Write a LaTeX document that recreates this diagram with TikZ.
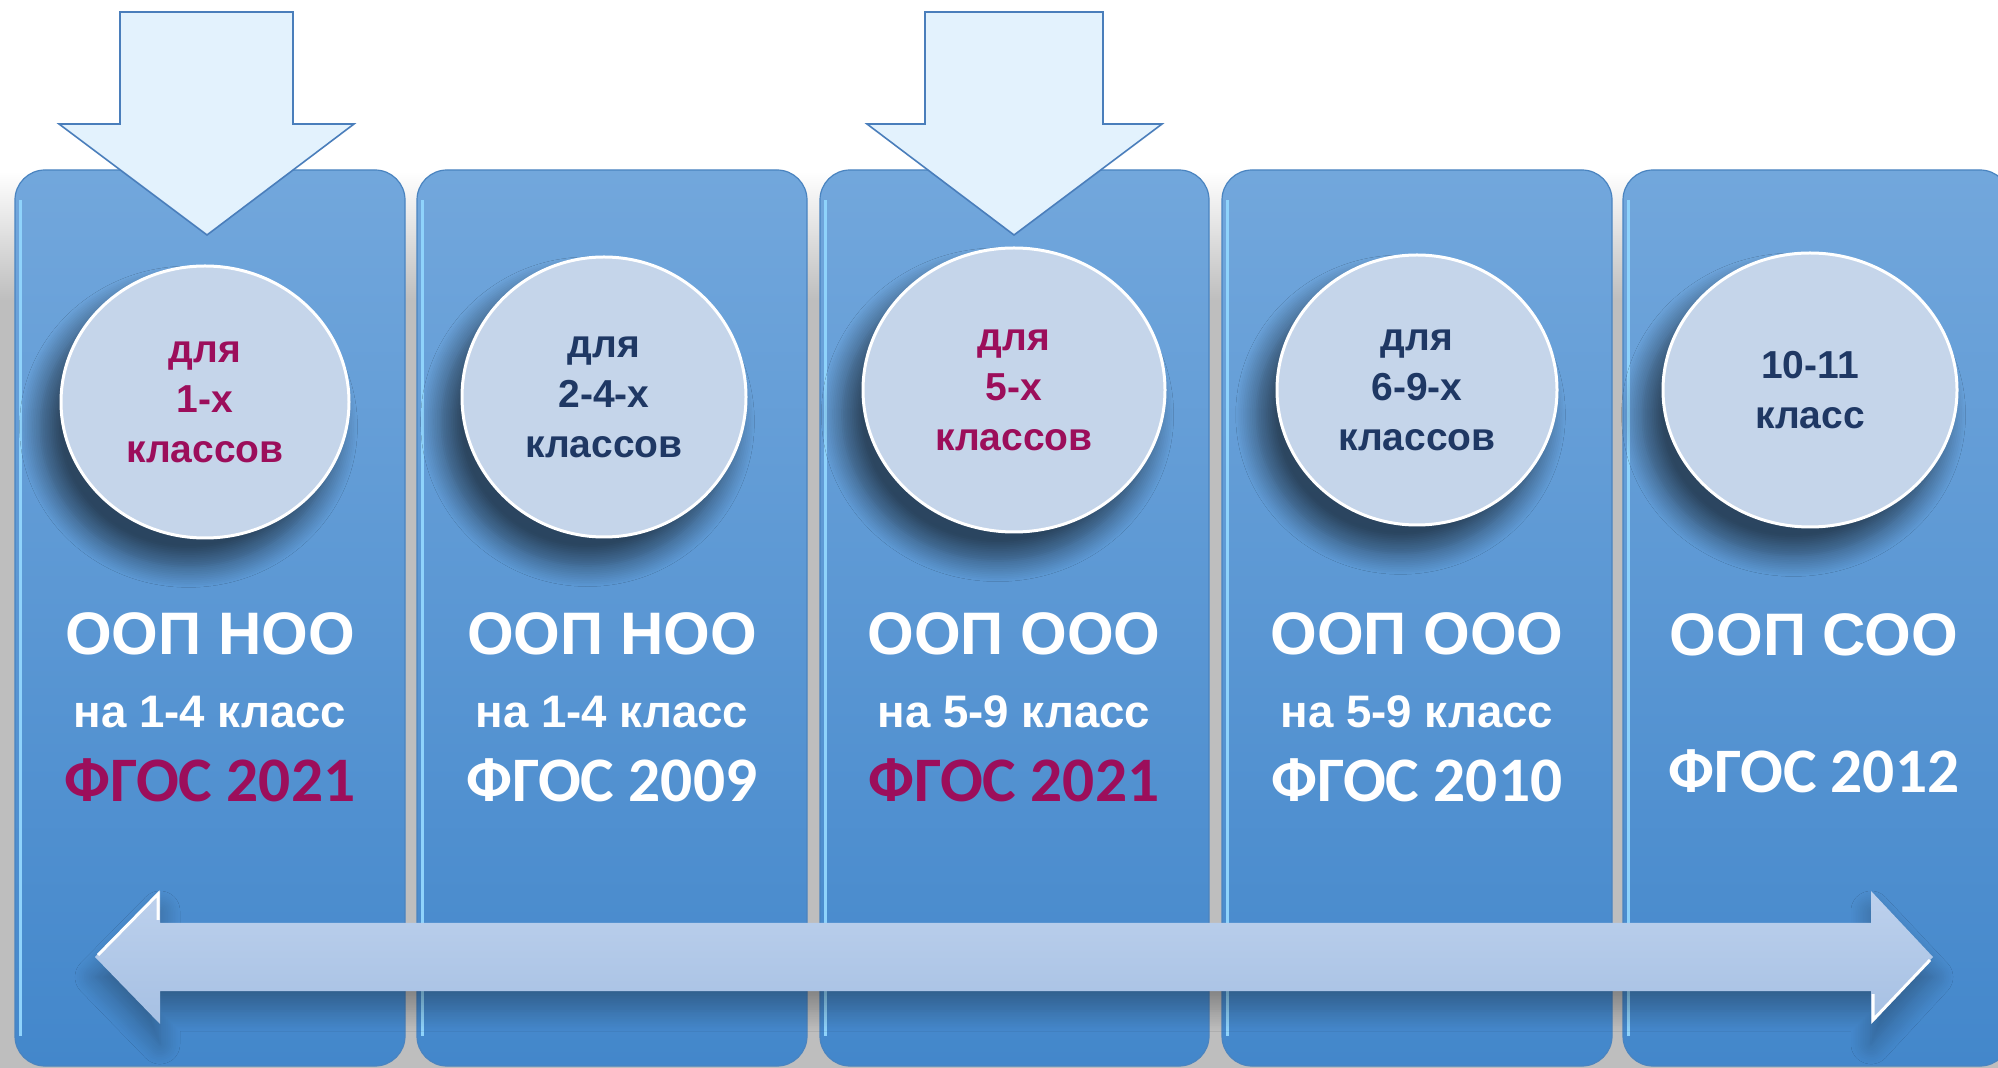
\documentclass[tikz,border=0pt]{standalone}
\usepackage{fontspec}
\setmainfont{Liberation Sans}
\newfontfamily\calfont{Carlito}
\usetikzlibrary{shapes.geometric,shadows.blur}

\definecolor{colTop}{HTML}{72A7DC}
\definecolor{colBot}{HTML}{4387CB}
\definecolor{colEdge}{HTML}{4A84C0}
\definecolor{bubFill}{HTML}{C5D5EA}
\definecolor{arrFill}{HTML}{E3F2FD}
\definecolor{arrEdge}{HTML}{4A7EBB}
\definecolor{barTop}{HTML}{BDD1ED}
\definecolor{barBot}{HTML}{A6C0E3}
\definecolor{plum}{HTML}{9C0E5B}
\definecolor{navy}{HTML}{1F3864}
\definecolor{gapGray}{HTML}{BEBEBE}
\definecolor{hiCyan}{HTML}{8FD3FB}

\begin{document}
\begin{tikzpicture}[x=0.5pt, y=-0.5pt,
  column/.style={rounded corners=15pt, top color=colTop, bottom color=colBot, draw=colEdge, line width=0.6pt},
  bubble/.style={ellipse, fill=bubFill, draw=white, line width=1.5pt, inner sep=0pt, align=center,
    text=navy, font=\bfseries\fontsize{19.5}{25}\selectfont,
    blur shadow={shadow xshift=-8pt, shadow yshift=-12pt, shadow blur radius=10pt, shadow blur steps=12,
      shadow opacity=55, shadow scale=1.03}},
  downarrow/.style={fill=arrFill, draw=arrEdge, line width=0.8pt, line join=miter},
  bigtext/.style={anchor=base, text=white, font=\bfseries\fontsize{30}{32}\selectfont},
  midtext/.style={anchor=base, text=white, font=\bfseries\fontsize{22.8}{24}\selectfont},
  fgostext/.style={anchor=base, text=white, font=\calfont\bfseries\fontsize{31.7}{33}\selectfont}]

\useasboundingbox (0,0) rectangle (1998,1068);
\fill[white] (0,0) rectangle (1998,1068);

% Grey backdrop behind the columns
\shade[top color=white, bottom color=gapGray] (0,172) rectangle (1998,300);
\fill[gapGray] (0,300) rectangle (1998,1068);

% Columns
\draw[column] (15,170) rectangle (405,1066);
\draw[column] (417,170) rectangle (807,1066);
\draw[column] (820,170) rectangle (1209,1066);
\draw[column] (1222,170) rectangle (1612,1066);
\draw[column] (1623,170) rectangle (2010,1066);

% Left edge highlights
\draw[hiCyan, line width=1.5pt] (20,200) -- (20,1036);
\draw[hiCyan, line width=1.5pt] (422,200) -- (422,1036);
\draw[hiCyan, line width=1.5pt] (825,200) -- (825,1036);
\draw[hiCyan, line width=1.5pt] (1227,200) -- (1227,1036);
\draw[hiCyan, line width=1.5pt] (1628,200) -- (1628,1036);

% Bubbles
\node[bubble, minimum width=144pt, minimum height=136pt, text=plum] (b1) at (205,402) {для\\1-х\\классов};
\node[bubble, minimum width=142pt, minimum height=140pt] (b2) at (604,397) {для\\2-4-х\\классов};
\node[bubble, minimum width=151pt, minimum height=142pt, text=plum] (b3) at (1014,390) {для\\5-х\\классов};
\node[bubble, minimum width=140pt, minimum height=135pt] (b4) at (1417,390) {для\\6-9-х\\классов};
\node[bubble, minimum width=147pt, minimum height=137pt] (b5) at (1810,390) {10-11\\класс};

% Column texts
\node[bigtext] (p1) at (210,655) {ООП НОО};
\node[midtext] (k1) at (210,728) {на 1-4 класс};
\node[fgostext, text=plum] (f1) at (210,802) {ФГОС 2021};

\node[bigtext] (p2) at (612,655) {ООП НОО};
\node[midtext] (k2) at (612,728) {на 1-4 класс};
\node[fgostext] (f2) at (612,802) {ФГОС 2009};

\node[bigtext] (p3) at (1014,655) {ООП ООО};
\node[midtext] (k3) at (1014,728) {на 5-9 класс};
\node[fgostext, text=plum] (f3) at (1014,802) {ФГОС 2021};

\node[bigtext] (p4) at (1417,655) {ООП ООО};
\node[midtext] (k4) at (1417,728) {на 5-9 класс};
\node[fgostext] (f4) at (1417,802) {ФГОС 2010};

\node[bigtext] (p5) at (1814,656) {ООП СОО};
\node[fgostext] (f5) at (1814,793) {ФГОС 2012};

% Timeline double arrow
\shade[top color=barTop, bottom color=barBot,
  blur shadow={shadow xshift=0pt, shadow yshift=-10pt, shadow blur radius=10pt, shadow blur steps=12,
    shadow opacity=30}]
  (95,957) -- (160,891) -- (160,923) -- (1871,923) -- (1871,891)
  -- (1933,957) -- (1871,1024) -- (1871,991) -- (160,991) -- (160,1024) -- cycle;
\draw[white, line width=1.5pt] (98,955) -- (158,894) -- (158,920);
\draw[white, line width=1.5pt] (1873,994) -- (1873,1020) -- (1930,960);

% Down arrows
\draw[downarrow] (120,12) -- (293,12) -- (293,124) -- (354,124) -- (207,235) -- (59,124) -- (120,124) -- cycle;
\draw[downarrow] (925,12) -- (1103,12) -- (1103,124) -- (1162,124) -- (1014,235) -- (867,124) -- (925,124) -- cycle;

\end{tikzpicture}
\end{document}
